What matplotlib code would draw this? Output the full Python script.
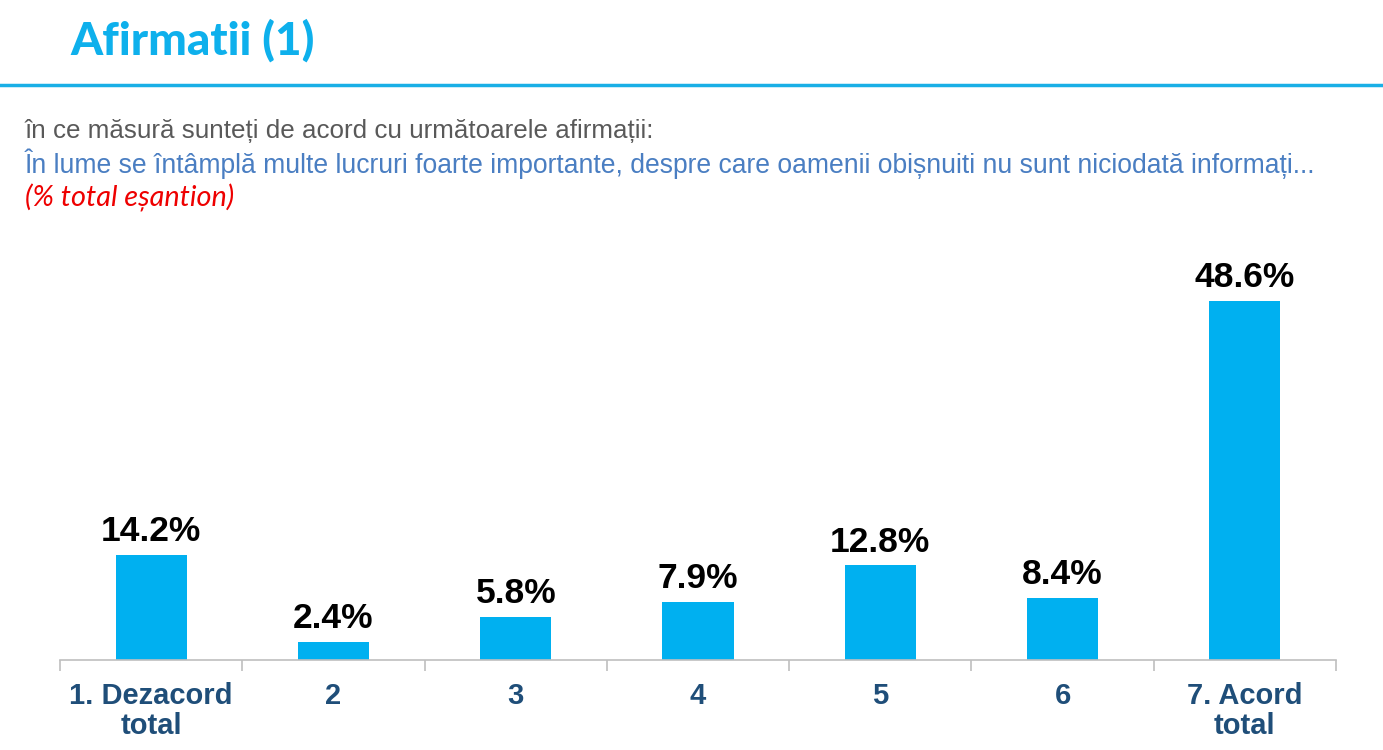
import matplotlib
matplotlib.use("Agg")
import matplotlib.pyplot as plt
from matplotlib.lines import Line2D

categories = ["1. Dezacord\ntotal", "2", "3", "4", "5", "6", "7. Acord\ntotal"]
values = [14.2, 2.4, 5.8, 7.9, 12.8, 8.4, 48.6]

title = "Afirmatii (1)"
question = "în ce măsură sunteți de acord cu următoarele afirmații:"
statement = ("În lume se întâmplă multe lucruri foarte importante, despre care "
             "oamenii obișnuiti nu sunt niciodată informați...")
base_note = "(% total eșantion)"

bar_color = "#00B0F0"
label_color = "#1F4E79"

fig = plt.figure(figsize=(13.83, 7.5), dpi=100)

# header
fig.text(70/1383, 1 - 41/750, title, fontsize=33, fontweight="black",
         family="Lato", color="#0EB0EC", va="center", ha="left")
fig.add_artist(Line2D([0, 1], [1 - 85/750, 1 - 85/750], color="#1AAFE6",
                      lw=2.5, transform=fig.transFigure))
fig.text(25/1383, 1 - 131/750, question, fontsize=18.7, family="Liberation Sans",
         color="#595959", va="center", ha="left")
fig.text(25/1383, 1 - 164/750, statement, fontsize=19.1, family="Liberation Sans",
         color="#4A7EC2", va="center", ha="left")
fig.text(25/1383, 1 - 198/750, base_note, fontsize=20.8, family="Lato",
         style="italic", color="#EE0000", va="center", ha="left")

# chart
ax = fig.add_axes([60/1383, 0.12, (1336 - 60)/1383, 443/750])
x = list(range(len(categories)))
bars = ax.bar(x, values, width=0.39, color=bar_color, zorder=2)

for xi, v in zip(x, values):
    ax.annotate(f"{v:.1f}%", (xi, v), xytext=(0, 5), textcoords="offset points",
                ha="center", va="bottom", fontsize=25.5, fontweight="bold",
                family="Liberation Sans", color="black")

ax.set_xlim(-0.5, len(categories) - 0.5)
ax.set_ylim(0, 60)
ax.set_yticks([])
for s in ["top", "right", "left"]:
    ax.spines[s].set_visible(False)
ax.spines["bottom"].set_color("#BFBFBF")
ax.spines["bottom"].set_linewidth(1.2)

ax.set_xticks(x)
ax.set_xticklabels(categories, fontsize=21, fontweight="bold",
                   family="Liberation Sans", color=label_color, linespacing=1.1)
ax.tick_params(axis="x", which="major", length=0, pad=16)
ax.set_xticks([i - 0.5 for i in range(len(categories) + 1)], minor=True)
ax.tick_params(axis="x", which="minor", length=8, color="#BFBFBF", width=1.2)

fig.savefig("out.png", dpi=100)
